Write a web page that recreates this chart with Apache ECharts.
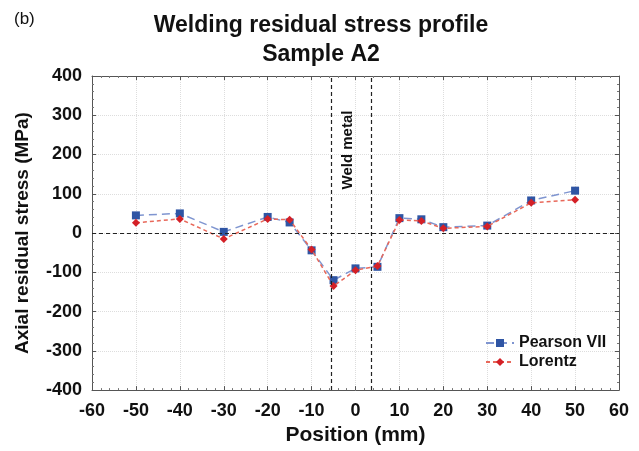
<!DOCTYPE html>
<html>
<head>
<meta charset="utf-8">
<script src="https://cdn.jsdelivr.net/npm/echarts@6/dist/echarts.min.js"></script>
<style>
  html, body { margin: 0; padding: 0; background: #fff; }
  #chart { width: 639px; height: 451px; }
</style>
</head>
<body>
<div id="chart"></div>
<script>
// positions (mm) and stress values (MPa)
const positions = [-50, -40, -30, -20, -15, -10, -5, 0, 5, 10, 15, 20, 30, 40, 50]
const pearsonVII = [45, 50, 3, 41, 27, -44, -120, -90, -86, 38, 35, 15, 19, 83, 108]
const lorentz = [26, 36, -15, 36, 34, -42, -135, -95, -84, 33, 31, 12, 17, 77, 85]
// weld metal boundaries
const weldEdges = [-5.5, 3.5]

const font = 'Liberation Sans, Arial, sans-serif'
const chart = echarts.init(document.getElementById('chart'))

const pair = (xs, ys) => xs.map((x, i) => [x, ys[i]])

const axisBase = {
  axisLine: { show: true, onZero: false, lineStyle: { color: '#555', width: 1 } },
  axisTick: { show: true, inside: true, length: 4, lineStyle: { color: '#555' } },
  minorTick: { show: true, splitNumber: 5, length: 2, lineStyle: { color: '#777' } },
  splitLine: { show: true, lineStyle: { color: '#ddd', type: 'dotted' } }
}

const option = {
  animation: false,
  backgroundColor: '#fff',
  title: [
    {
      text: 'Welding residual stress profile',
      left: 316, top: 9, textAlign: 'center',
      textStyle: { fontFamily: font, fontSize: 23, fontWeight: 'bold', color: '#111' }
    },
    {
      text: 'Sample A2',
      left: 316, top: 38, textAlign: 'center',
      textStyle: { fontFamily: font, fontSize: 23, fontWeight: 'bold', color: '#111' }
    },
    {
      text: '(b)',
      left: 9, top: 6,
      textStyle: { fontFamily: font, fontSize: 17, fontWeight: 'normal', color: '#111' }
    }
  ],
  grid: { left: 92, right: 20, top: 76, bottom: 60, containLabel: false },
  legend: {
    orient: 'vertical',
    left: 480, top: 330,
    itemGap: 3,
    itemWidth: 28, itemHeight: 10,
    textStyle: { fontFamily: font, fontSize: 16, fontWeight: 'bold', color: '#111' },
    data: ['Pearson VII', 'Lorentz']
  },
  xAxis: [
    Object.assign({}, axisBase, {
      type: 'value', min: -60, max: 60, interval: 10,
      name: 'Position (mm)', nameLocation: 'middle', nameGap: 34,
      nameTextStyle: { fontFamily: font, fontSize: 21, fontWeight: 'bold', color: '#111' },
      axisLabel: { fontFamily: font, fontSize: 18, fontWeight: 'bold', color: '#111', margin: 12 }
    }),
    Object.assign({}, axisBase, {
      type: 'value', min: -60, max: 60, interval: 10, position: 'top',
      axisLabel: { show: false }, splitLine: { show: false }
    })
  ],
  yAxis: [
    Object.assign({}, axisBase, {
      type: 'value', min: -400, max: 400, interval: 100,
      name: 'Axial residual stress (MPa)', nameLocation: 'middle', nameGap: 60,
      nameTextStyle: { fontFamily: font, fontSize: 19, fontWeight: 'bold', color: '#111' },
      axisLabel: { fontFamily: font, fontSize: 18, fontWeight: 'bold', color: '#111', margin: 10 }
    }),
    Object.assign({}, axisBase, {
      type: 'value', min: -400, max: 400, interval: 100, position: 'right',
      axisLabel: { show: false }, splitLine: { show: false }
    })
  ],
  series: [
    {
      name: 'Pearson VII',
      type: 'line',
      data: pair(positions, pearsonVII),
      symbol: 'rect', symbolSize: 8,
      itemStyle: { color: '#2f55a4' },
      lineStyle: { color: '#7f95d0', width: 1.5, type: [8, 5] },
      z: 3,
      markLine: {
        silent: true, symbol: 'none',
        label: { show: false },
        lineStyle: { color: '#222', type: [4, 3], width: 1.2 },
        data: [
          { yAxis: 0 },
          { xAxis: weldEdges[0] },
          { xAxis: weldEdges[1] }
        ]
      }
    },
    {
      name: 'Lorentz',
      type: 'line',
      data: pair(positions, lorentz),
      symbol: 'diamond', symbolSize: 8,
      itemStyle: { color: '#d42027' },
      lineStyle: { color: '#e8685a', width: 1.5, type: [4, 3] },
      z: 4
    }
  ],
  graphic: [
    {
      type: 'text',
      x: 348, y: 150, rotation: Math.PI / 2,
      style: {
        text: 'Weld metal', align: 'center', verticalAlign: 'middle',
        font: 'bold 15px Liberation Sans, Arial, sans-serif', fill: '#111'
      }
    }
  ]
}

chart.setOption(option)
</script>
</body>
</html>
